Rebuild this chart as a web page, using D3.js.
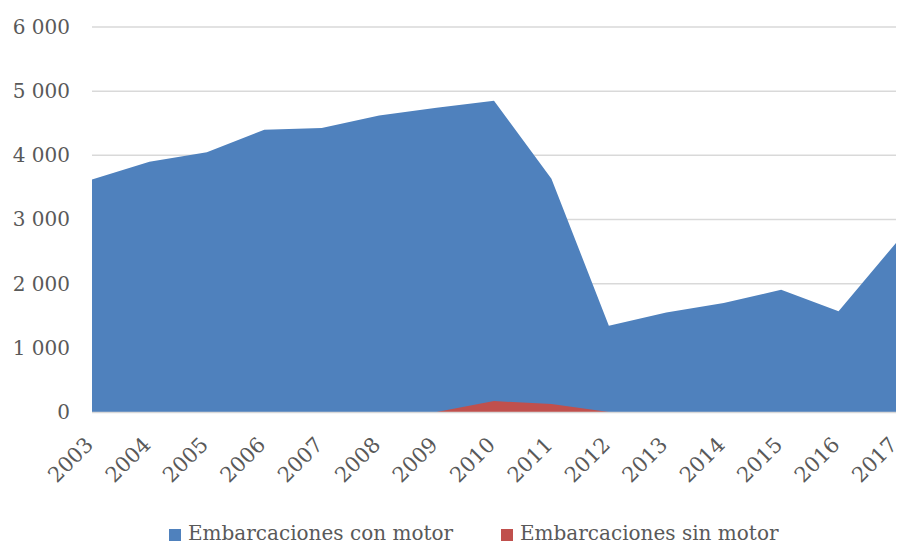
<!DOCTYPE html>
<html><head><meta charset="utf-8">
<script src="https://cdn.jsdelivr.net/npm/d3@7"></script>
<style>body{margin:0;background:#fff;} svg{display:block;}</style>
</head><body>
<svg id="c" width="901" height="545"></svg>
<script>
const years = ["2003","2004","2005","2006","2007","2008","2009","2010","2011","2012","2013","2014","2015","2016","2017"];
const conMotor = [3625, 3900, 4050, 4400, 4425, 4620, 4740, 4850, 3635, 1345, 1550, 1700, 1905, 1570, 2635];
const sinMotor = [0, 0, 0, 0, 0, 0, 0, 170, 125, 0, 0, 0, 0, 0, 0];
const yTicks = [0, 1000, 2000, 3000, 4000, 5000, 6000];
const seriesNames = ["Embarcaciones con motor", "Embarcaciones sin motor"];
const colors = ["#4f81bd", "#c0504d"];

const font = "'DejaVu Serif', serif";
const svg = d3.select("#c");
const L = 92, R = 896, T = 27, B = 412;
const x = d3.scalePoint().domain(years).range([L, R]);
const y = d3.scaleLinear().domain([0, 6000]).range([B, T]);
const fmt = v => d3.format(",")(v).replace(/,/g, " ");

// gridlines
svg.append("g").selectAll("line").data(yTicks.filter(d => d > 0)).join("line")
  .attr("x1", L).attr("x2", R).attr("y1", d => y(d)).attr("y2", d => y(d))
  .attr("stroke", "#d9d9d9").attr("stroke-width", 1.5);

const area = d3.area().x((d, i) => x(years[i])).y0(y(0)).y1(d => y(d));
[conMotor, sinMotor].forEach((s, k) => {
  svg.append("path").datum(s).attr("d", area).attr("fill", colors[k]);
});

// baseline
svg.append("line").attr("x1", L).attr("x2", R).attr("y1", B + 0.5).attr("y2", B + 0.5)
  .attr("stroke", "#d9d9d9").attr("stroke-width", 1.5);

// y axis labels
const yAxis = d3.axisLeft(y).tickValues(yTicks).tickFormat(fmt).tickSize(0).tickPadding(22);
const gy = svg.append("g").attr("transform", `translate(${L},0)`).call(yAxis);
gy.select(".domain").remove();
gy.selectAll("text").attr("font-family", font).attr("font-size", 20).attr("fill", "#595959");

// x axis labels
const xAxis = d3.axisBottom(x).tickSize(0).tickPadding(0);
const gx = svg.append("g").attr("transform", `translate(0,${B})`).call(xAxis);
gx.select(".domain").remove();
gx.selectAll("text")
  .attr("font-family", font).attr("font-size", 21).attr("fill", "#595959")
  .attr("text-anchor", "end").attr("dy", null).attr("y", 0)
  .attr("transform", "translate(2,34) rotate(-45)");

// legend
const leg = svg.append("g");
const legX = [169, 501];
seriesNames.forEach((n, i) => {
  leg.append("rect").attr("x", legX[i]).attr("y", 529).attr("width", 12).attr("height", 12).attr("fill", colors[i]);
  leg.append("text").attr("x", legX[i] + 19).attr("y", 540).text(n)
    .attr("font-family", font).attr("font-size", 20).attr("fill", "#595959");
});
</script>
</body></html>
